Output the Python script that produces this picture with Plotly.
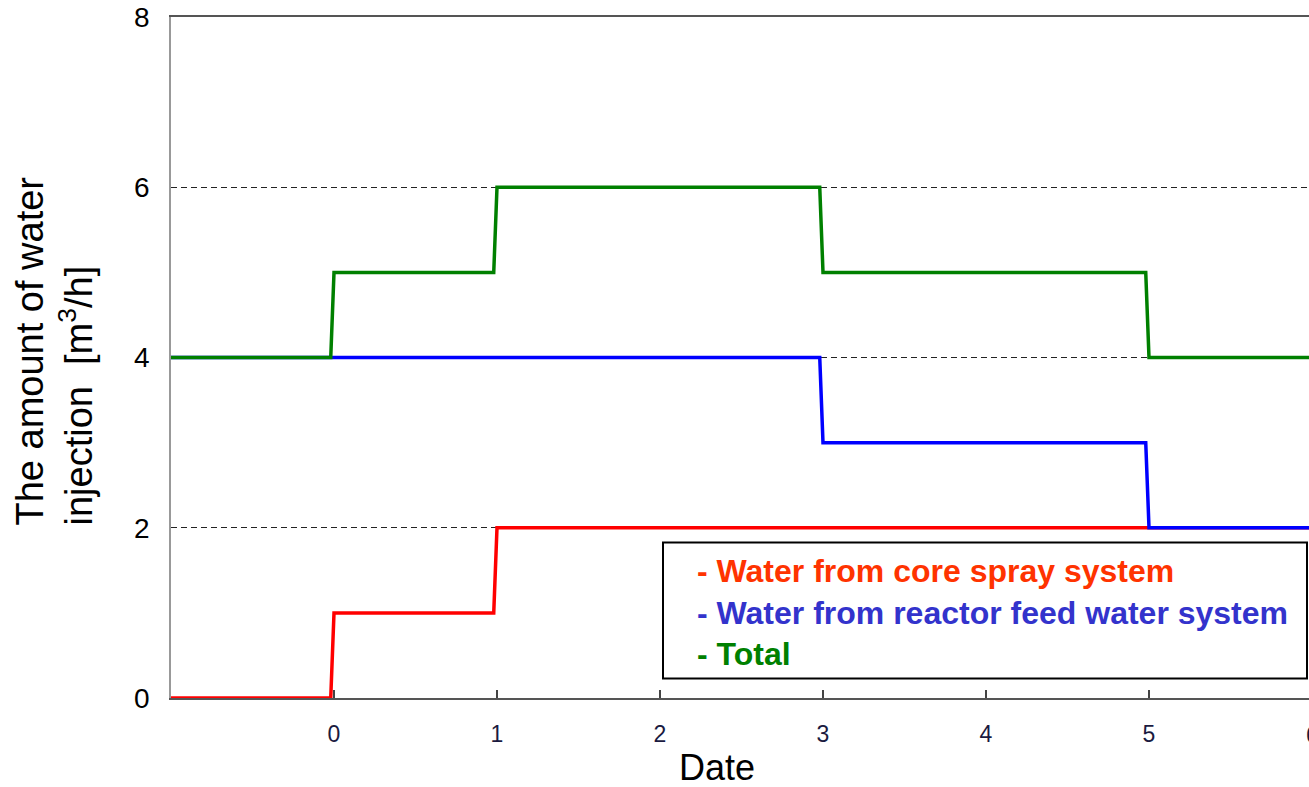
import plotly.graph_objects as go

# ---- data ----
change_days = [0, 1, 3, 5]            # days when injection rate changed
interval_start = -1
interval_end = 6
core_spray = [0, 1, 2, 2, 2]          # m3/h per interval
feed_water = [4, 4, 4, 3, 2]
total = [4, 5, 6, 5, 4]
x_ticks = [-1, 0, 1, 2, 3, 4, 5, 6]
x_tick_text = ["", "0", "1", "2", "3", "4", "5", "6"]
y_ticks = [0, 2, 4, 6, 8]
legend_names = ["Water from core spray system",
                "Water from reactor feed water system",
                "Total"]

RAMP = 0.02  # visual width of each transition


def stepped(values):
    xs = [interval_start]
    ys = [values[0]]
    for i, t in enumerate(change_days):
        xs += [t - RAMP, t]
        ys += [values[i], values[i + 1]]
    xs.append(interval_end)
    ys.append(values[-1])
    return xs, ys


FONT = "Arial, Liberation Sans, sans-serif"
L, R, T, B = 171, 0, 17, 89
W, H = 1309, 787
PW, PH = W - L - R, H - T - B
UNIT = 163.0
x_max = -1 + PW / UNIT


def px(x):
    return (x - L) / PW


def py(y):
    return (H - B - y) / PH


fig = go.Figure()
for vals, col in [(core_spray, "#ff0000"), (feed_water, "#0000ff"), (total, "#008000")]:
    xs, ys = stepped(vals)
    fig.add_trace(go.Scatter(x=xs, y=ys, mode="lines",
                             line=dict(color=col, width=3.5),
                             showlegend=False, hoverinfo="skip"))

fig.update_layout(
    width=W, height=H,
    margin=dict(l=L, r=R, t=T, b=B, pad=0),
    paper_bgcolor="white", plot_bgcolor="white",
    font=dict(family=FONT, color="black"),
    xaxis=dict(range=[-1, x_max], tickvals=x_ticks, ticktext=x_tick_text,
               ticks="inside", ticklen=8, tickcolor="#444", tickwidth=1.5,
               showline=True, linecolor="#555", linewidth=1.5, mirror=True,
               showgrid=False, zeroline=False,
               tickfont=dict(size=23, color="#1a1a40"), ticklabelstandoff=15),
    yaxis=dict(range=[0, 8], tickvals=y_ticks, ticks="",
               showline=True, linecolor="#999", linewidth=1.5,
               showgrid=True, gridcolor="#222", gridwidth=1, griddash="6px,4px",
               zeroline=False, tickfont=dict(size=28), ticklabelstandoff=14),
)

# legend box and coloured text
fig.add_shape(type="rect", xref="paper", yref="paper",
              x0=px(663), x1=px(1307), y0=py(678.5), y1=py(542.5),
              line=dict(color="black", width=2), fillcolor="white", layer="above")
colors = ["#ff3300", "#3333cc", "#008000"]
legend_text = "<br>".join(
    f"<span style='color:{c}'><b>- {n}</b></span>" for n, c in zip(legend_names, colors))
fig.add_annotation(xref="paper", yref="paper", x=px(695), y=py(612),
                   xanchor="left", yanchor="middle", align="left", showarrow=False,
                   text=legend_text, font=dict(family=FONT, size=32))

# axis titles
fig.add_annotation(xref="paper", yref="paper", x=px(54), y=py(351.5),
                   xanchor="center", yanchor="middle", align="left", textangle=-90,
                   showarrow=False,
                   text="The amount of water<br>injection  [m<sup>3</sup>/h]",
                   font=dict(family=FONT, size=38, color="black"))
fig.add_annotation(xref="paper", yref="paper", x=px(717), y=py(768),
                   xanchor="center", yanchor="middle", showarrow=False,
                   text="Date", font=dict(family=FONT, size=36, color="black"))
# partially visible tick label "6" at right edge
fig.add_annotation(xref="paper", yref="paper", x=px(1312), y=py(735),
                   xanchor="center", yanchor="middle", showarrow=False,
                   text="6", font=dict(family=FONT, size=23, color="#1a1a40"))

fig.write_html("out.html",
               config={"displayModeBar": False},
               post_script="document.body.style.margin='0';"
                           "document.body.style.overflow='hidden';")
